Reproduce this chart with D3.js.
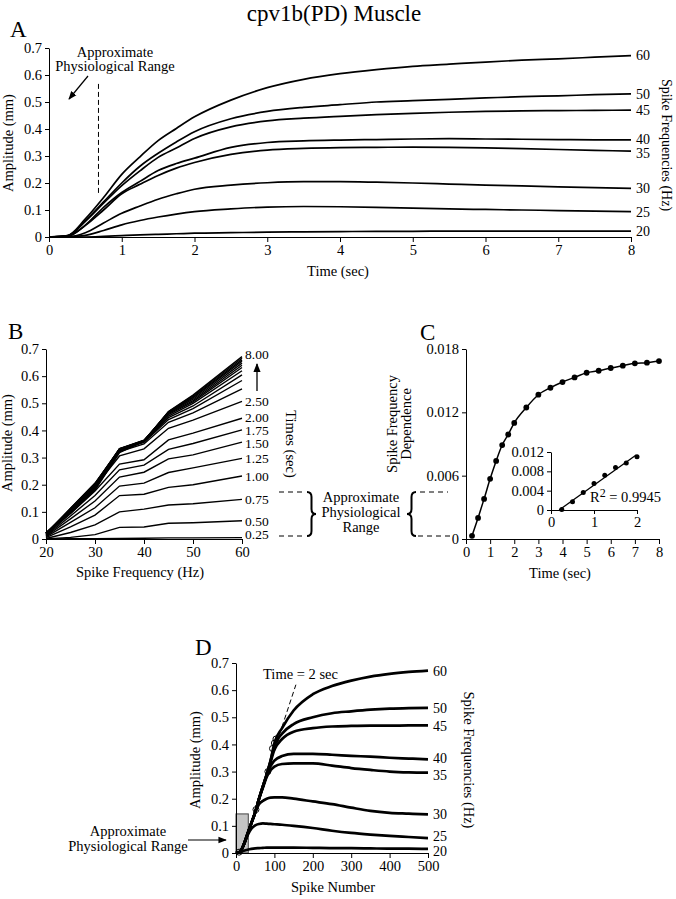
<!DOCTYPE html>
<html><head><meta charset="utf-8">
<script src="https://cdn.jsdelivr.net/npm/d3@7"></script>
<style>
body{margin:0;background:#fff;}
svg{display:block;font-family:"Liberation Serif","Times New Roman",serif;}
.axis text{font-size:14.5px;font-family:"Liberation Serif","Times New Roman",serif;fill:#000;}
.axis path,.axis line{stroke:#000;stroke-width:1;}
</style></head>
<body>
<svg id="fig" width="676" height="899"></svg>
<script>
// ---------------- DATA ----------------
const freqs = [20, 25, 30, 35, 40, 45, 50, 60];
// Panel A: amplitude (mm) vs time (sec)
const timeA = [0, 0.25, 0.5, 0.75, 1, 1.25, 1.5, 1.75, 2, 2.5, 3, 3.5, 4, 4.5, 5, 5.5, 6, 6.5, 7, 7.5, 8];
const ampA20 = [0, 0, 0, 0.002, 0.005, 0.008, 0.010, 0.012, 0.014, 0.016, 0.018, 0.019, 0.020, 0.021, 0.021, 0.022, 0.022, 0.022, 0.022, 0.022, 0.022];
const ampA25 = [0, 0.001, 0.006, 0.024, 0.045, 0.061, 0.074, 0.085, 0.094, 0.104, 0.111, 0.113, 0.112, 0.110, 0.107, 0.104, 0.102, 0.100, 0.098, 0.096, 0.094];
const ampA30 = [0, 0.001, 0.016, 0.052, 0.088, 0.115, 0.140, 0.160, 0.177, 0.192, 0.201, 0.205, 0.205, 0.203, 0.200, 0.196, 0.192, 0.189, 0.186, 0.183, 0.180];
const ampA35 = [0, 0.002, 0.043, 0.100, 0.160, 0.195, 0.228, 0.255, 0.276, 0.306, 0.322, 0.328, 0.331, 0.332, 0.333, 0.332, 0.330, 0.327, 0.324, 0.321, 0.318];
const ampA40 = [0, 0.003, 0.044, 0.110, 0.165, 0.206, 0.246, 0.272, 0.292, 0.332, 0.350, 0.356, 0.359, 0.361, 0.363, 0.364, 0.363, 0.362, 0.361, 0.360, 0.360];
const ampA45 = [0, 0.004, 0.058, 0.125, 0.190, 0.245, 0.295, 0.330, 0.365, 0.408, 0.430, 0.440, 0.447, 0.453, 0.458, 0.462, 0.465, 0.467, 0.468, 0.469, 0.470];
const ampA50 = [0, 0.004, 0.060, 0.130, 0.200, 0.262, 0.310, 0.352, 0.390, 0.438, 0.465, 0.480, 0.490, 0.500, 0.505, 0.510, 0.515, 0.520, 0.523, 0.527, 0.530];
const ampA60 = [0, 0.005, 0.067, 0.146, 0.232, 0.297, 0.357, 0.402, 0.445, 0.507, 0.553, 0.584, 0.605, 0.620, 0.632, 0.640, 0.648, 0.655, 0.660, 0.666, 0.672];
const ampA = [ampA20, ampA25, ampA30, ampA35, ampA40, ampA45, ampA50, ampA60];

// Panel B: times sampled from panel A traces
const timesB = [0.25, 0.5, 0.75, 1, 1.25, 1.5, 1.75, 2, 2.5, 3, 3.5, 4, 4.5, 5, 5.5, 6, 6.5, 7, 7.5, 8];
const labelTimesB = [0.25, 0.5, 0.75, 1, 1.25, 1.5, 1.75, 2, 2.5, 8];

// Panel C: spike frequency dependence vs time
const timeC = [0.25, 0.5, 0.75, 1, 1.25, 1.5, 1.75, 2, 2.5, 3, 3.5, 4, 4.5, 5, 5.5, 6, 6.5, 7, 7.5, 8];
const depC = [0.0003, 0.0020, 0.0038, 0.0057, 0.0074, 0.0089, 0.0099, 0.0110, 0.01246, 0.01367, 0.01433, 0.01487, 0.01531, 0.01575, 0.01594, 0.01620, 0.01642, 0.01664, 0.01670, 0.01686];
const insetTimes = [0.25, 0.5, 0.75, 1, 1.25, 1.5, 1.75, 2];
const insetDep = [0.0001, 0.0017, 0.0036, 0.0055, 0.0072, 0.0088, 0.0097, 0.0110];

// Panel D: amplitude vs spike number
const spikeD = [0, 10, 20, 30, 40, 50, 60, 70, 80, 90, 100, 120, 150, 200, 250, 300, 350, 400, 450, 500];
const ampD20 = [0, 0.003, 0.008, 0.012, 0.015, 0.017, 0.018, 0.019, 0.020, 0.020, 0.020, 0.020, 0.020, 0.019, 0.018, 0.018, 0.017, 0.016, 0.016, 0.015];
const ampD25 = [0, 0.004, 0.030, 0.065, 0.090, 0.102, 0.107, 0.109, 0.108, 0.107, 0.106, 0.104, 0.100, 0.092, 0.082, 0.074, 0.068, 0.063, 0.059, 0.055];
const ampD30 = [0, 0.004, 0.030, 0.070, 0.110, 0.150, 0.180, 0.192, 0.200, 0.204, 0.205, 0.205, 0.200, 0.190, 0.180, 0.167, 0.155, 0.148, 0.145, 0.142];
const ampD35 = [0, 0.004, 0.030, 0.070, 0.110, 0.150, 0.200, 0.240, 0.280, 0.305, 0.318, 0.328, 0.330, 0.330, 0.322, 0.313, 0.306, 0.300, 0.297, 0.296];
const ampD40 = [0, 0.004, 0.030, 0.070, 0.110, 0.150, 0.200, 0.245, 0.285, 0.320, 0.340, 0.357, 0.365, 0.365, 0.362, 0.358, 0.355, 0.351, 0.348, 0.345];
const ampD45 = [0, 0.004, 0.030, 0.070, 0.110, 0.150, 0.200, 0.245, 0.290, 0.335, 0.380, 0.420, 0.447, 0.460, 0.466, 0.468, 0.469, 0.469, 0.470, 0.470];
const ampD50 = [0, 0.004, 0.030, 0.070, 0.110, 0.150, 0.200, 0.245, 0.290, 0.340, 0.395, 0.440, 0.475, 0.500, 0.515, 0.522, 0.528, 0.532, 0.534, 0.535];
const ampD60 = [0, 0.004, 0.030, 0.070, 0.110, 0.150, 0.200, 0.245, 0.290, 0.340, 0.405, 0.460, 0.525, 0.585, 0.615, 0.635, 0.650, 0.660, 0.667, 0.672];
const ampD = [ampD20, ampD25, ampD30, ampD35, ampD40, ampD45, ampD50, ampD60];
const circlesSpike = [8, 52, 83, 95, 100, 104];
const circlesAmp = [0.003, 0.160, 0.300, 0.385, 0.405, 0.420];
const dashSpike = [100, 156];
const dashAmp = [0.38, 0.62];
const shadeSpike = 32, shadeAmp = 0.144;

// ---------------- DRAW ----------------
const svg = d3.select("#fig");
const FONT = 14.5;
const fmt1 = d => d === 0 ? "0" : d.toFixed(1);
const fmt3 = d => d === 0 ? "0" : d.toFixed(3);

function txt(x, y, s, opts = {}) {
  const t = svg.append("text").attr("x", x).attr("y", y).text(s)
    .attr("font-size", opts.size || FONT).attr("text-anchor", opts.anchor || "start");
  if (opts.rotate !== undefined) t.attr("transform", `rotate(${opts.rotate},${x},${y})`);
  if (opts.dy) t.attr("dy", opts.dy);
  return t;
}
function arrowHead(id) {
  const defs = svg.select("defs").empty() ? svg.append("defs") : svg.select("defs");
  defs.append("marker").attr("id", id).attr("viewBox", "0 0 10 10").attr("refX", 9).attr("refY", 5)
    .attr("markerWidth", 7).attr("markerHeight", 7).attr("orient", "auto")
    .append("path").attr("d", "M0,1 L10,5 L0,9 Z").attr("fill", "#000");
}
arrowHead("arr");
function brace(x, y1, y2, w) {
  const ym = (y1 + y2) / 2, q = 5, xm = x + w / 2;
  return `M${x},${y1} Q${xm},${y1} ${xm},${y1 + q} L${xm},${ym - q} Q${xm},${ym} ${x + w},${ym} Q${xm},${ym} ${xm},${ym + q} L${xm},${y2 - q} Q${xm},${y2} ${x},${y2}`;
}

// Title
txt(334, 21, "cpv1b(PD) Muscle", {size: 23, anchor: "middle"});

// ---------- Panel A ----------
const xA = d3.scaleLinear().domain([0, 8]).range([49, 631]);
const yA = d3.scaleLinear().domain([0, 0.7]).range([237, 48]);
svg.append("g").attr("class", "axis").attr("transform", "translate(0,237)")
  .call(d3.axisBottom(xA).tickValues(d3.range(0, 9)).tickSize(5).tickSizeOuter(0).tickFormat(d3.format("d")));
svg.append("g").attr("class", "axis").attr("transform", "translate(49,0)")
  .call(d3.axisLeft(yA).tickValues(d3.range(0, 0.71, 0.1)).tickSize(4).tickSizeOuter(0).tickFormat(fmt1));
const lineA = d3.line().x((d, i) => xA(timeA[i])).y(d => yA(d)).curve(d3.curveMonotoneX);
const labelNudgeA = [0, 0, 0, 2, -1, 0, 0, 0];
ampA.forEach((arr, k) => {
  svg.append("path").attr("d", lineA(arr)).attr("fill", "none").attr("stroke", "#000").attr("stroke-width", 1.7);
  txt(636, yA(arr[arr.length - 1]) + labelNudgeA[k], String(freqs[k]), {dy: "0.35em", size: 14});
});
txt(10, 37, "A", {size: 23});
txt(13, 143, "Amplitude (mm)", {anchor: "middle", rotate: -90});
txt(338, 276, "Time (sec)", {anchor: "middle"});
txt(662, 145, "Spike Frequencies (Hz)", {anchor: "middle", rotate: 90, size: 14});
txt(115, 57, "Approximate", {anchor: "middle"});
txt(115, 71, "Physiological Range", {anchor: "middle"});
svg.append("line").attr("x1", 88).attr("y1", 76).attr("x2", 69).attr("y2", 99)
  .attr("stroke", "#000").attr("stroke-width", 1.2).attr("marker-end", "url(#arr)");
svg.append("line").attr("x1", xA(0.68)).attr("x2", xA(0.68)).attr("y1", yA(0.567)).attr("y2", yA(0.155))
  .attr("stroke", "#000").attr("stroke-width", 1).attr("stroke-dasharray", "5,3");

// ---------- Panel B ----------
const xB = d3.scaleLinear().domain([20, 60]).range([46, 242]);
const yB = d3.scaleLinear().domain([0, 0.7]).range([539, 349]);
svg.append("g").attr("class", "axis").attr("transform", "translate(0,539)")
  .call(d3.axisBottom(xB).tickValues([20, 30, 40, 50, 60]).tickSize(5).tickSizeOuter(0).tickFormat(d3.format("d")));
svg.append("g").attr("class", "axis").attr("transform", "translate(46,0)")
  .call(d3.axisLeft(yB).tickValues(d3.range(0, 0.71, 0.1)).tickSize(4).tickSizeOuter(0).tickFormat(fmt1));
const lineB = d3.line().x(d => xB(d[0])).y(d => yB(d[1]));
timesB.forEach(t => {
  const idx = timeA.indexOf(t);
  const pts = freqs.map((f, k) => [f, ampA[k][idx]]);
  svg.append("path").attr("d", lineB(pts)).attr("fill", "none").attr("stroke", "#000").attr("stroke-width", 1.4);
});
labelTimesB.forEach(t => {
  const idx = timeA.indexOf(t);
  let y = yB(ampA[7][idx]);
  y = Math.min(y, yB(0) - 5);
  if (t === 8) y -= 2;
  if (t === 2) y -= 1;
  if (t === 1.5) y += 1;
  txt(245, y, t.toFixed(2), {dy: "0.35em", size: 13.5});
});
svg.append("line").attr("x1", 257).attr("x2", 257).attr("y1", 391).attr("y2", 364)
  .attr("stroke", "#000").attr("stroke-width", 1.3).attr("marker-end", "url(#arr)");
txt(286, 444, "Times (sec)", {anchor: "middle", rotate: 90});
txt(8, 339, "B", {size: 23});
txt(12, 443, "Amplitude (mm)", {anchor: "middle", rotate: -90});
txt(140, 577, "Spike Frequency (Hz)", {anchor: "middle"});
// bracket annotation between B and C
[[492, 279, 305], [536, 279, 305], [492, 420, 448], [536, 418, 450]].forEach(([y, x1, x2]) => {
  svg.append("line").attr("x1", x1).attr("x2", x2).attr("y1", y).attr("y2", y)
    .attr("stroke", "#000").attr("stroke-width", 1).attr("stroke-dasharray", "5,4");
});
svg.append("path").attr("d", brace(307, 492, 536, 9)).attr("fill", "none").attr("stroke", "#000").attr("stroke-width", 2);
svg.append("path").attr("d", brace(416, 492, 536, -9)).attr("fill", "none").attr("stroke", "#000").attr("stroke-width", 2);
txt(361, 502, "Approximate", {anchor: "middle"});
txt(361, 517, "Physiological", {anchor: "middle"});
txt(361, 532, "Range", {anchor: "middle"});

// ---------- Panel C ----------
const xC = d3.scaleLinear().domain([0, 8]).range([466, 659]);
const yC = d3.scaleLinear().domain([0, 0.018]).range([539, 349]);
svg.append("g").attr("class", "axis").attr("transform", "translate(0,539)")
  .call(d3.axisBottom(xC).tickValues(d3.range(0, 9)).tickSize(5).tickSizeOuter(0).tickFormat(d3.format("d")));
svg.append("g").attr("class", "axis").attr("transform", "translate(466,0)")
  .call(d3.axisLeft(yC).tickValues([0, 0.006, 0.012, 0.018]).tickSize(4).tickSizeOuter(0).tickFormat(fmt3));
const lineC = d3.line().x((d, i) => xC(timeC[i])).y(d => yC(d)).curve(d3.curveMonotoneX);
svg.append("path").attr("d", lineC(depC)).attr("fill", "none").attr("stroke", "#000").attr("stroke-width", 1.5);
svg.selectAll(".dotC").data(depC).enter().append("circle")
  .attr("cx", (d, i) => xC(timeC[i])).attr("cy", d => yC(d)).attr("r", 2.9).attr("fill", "#000");
txt(420, 340, "C", {size: 23});
txt(397, 424, "Spike Frequency", {anchor: "middle", rotate: -90});
txt(411, 424, "Dependence", {anchor: "middle", rotate: -90});
txt(560, 578, "Time (sec)", {anchor: "middle"});
// inset
const xI = d3.scaleLinear().domain([0, 2]).range([551, 637]);
const yI = d3.scaleLinear().domain([0, 0.012]).range([510, 452]);
svg.append("g").attr("class", "axis").attr("transform", "translate(0,510)")
  .call(d3.axisBottom(xI).tickValues([0, 1, 2]).tickSize(4).tickSizeOuter(0).tickFormat(d3.format("d")));
svg.append("g").attr("class", "axis").attr("transform", "translate(551,0)")
  .call(d3.axisLeft(yI).tickValues([0, 0.004, 0.008, 0.012]).tickSize(4).tickSizeOuter(0).tickFormat(fmt3));
// least squares regression on inset points
const mx = d3.mean(insetTimes), my = d3.mean(insetDep);
let sxy = 0, sxx = 0;
insetTimes.forEach((t, i) => { sxy += (t - mx) * (insetDep[i] - my); sxx += (t - mx) * (t - mx); });
const slope = sxy / sxx, icpt = my - slope * mx;
const tStart = -icpt / slope, tEnd = 1.98;
svg.append("line").attr("x1", xI(tStart)).attr("y1", yI(0)).attr("x2", xI(tEnd)).attr("y2", yI(icpt + slope * tEnd))
  .attr("stroke", "#000").attr("stroke-width", 1.3);
svg.selectAll(".dotI").data(insetDep).enter().append("circle")
  .attr("cx", (d, i) => xI(insetTimes[i])).attr("cy", d => yI(d)).attr("r", 2.5).attr("fill", "#000");
const r2 = svg.append("text").attr("x", 590).attr("y", 502).attr("font-size", FONT);
r2.append("tspan").text("R");
r2.append("tspan").text("2").attr("dy", -5).attr("font-size", 12);
r2.append("tspan").text(" = 0.9945").attr("dy", 5);

// ---------- Panel D ----------
const xD = d3.scaleLinear().domain([0, 500]).range([236, 428]);
const yD = d3.scaleLinear().domain([0, 0.7]).range([853, 663]);
svg.append("rect").attr("x", xD(0)).attr("y", yD(shadeAmp)).attr("width", xD(shadeSpike) - xD(0)).attr("height", yD(0) - yD(shadeAmp))
  .attr("fill", "#c4c4c4").attr("stroke", "#444").attr("stroke-width", 1);
svg.append("g").attr("class", "axis").attr("transform", "translate(0,853)")
  .call(d3.axisBottom(xD).tickValues(d3.range(0, 501, 100)).tickSize(5).tickSizeOuter(0).tickFormat(d3.format("d")));
svg.append("g").attr("class", "axis").attr("transform", "translate(236,0)")
  .call(d3.axisLeft(yD).tickValues(d3.range(0, 0.71, 0.1)).tickSize(4).tickSizeOuter(0).tickFormat(fmt1));
const lineD = d3.line().x((d, i) => xD(spikeD[i])).y(d => yD(d)).curve(d3.curveMonotoneX);
const labelNudgeD = [2, -2, 0, 2, -1, 1, 0, 0];
ampD.forEach((arr, k) => {
  svg.append("path").attr("d", lineD(arr)).attr("fill", "none").attr("stroke", "#000").attr("stroke-width", 2.7);
  txt(433, yD(arr[arr.length - 1]) + labelNudgeD[k], String(freqs[k]), {dy: "0.35em", size: 14});
});
svg.append("line").attr("x1", xD(dashSpike[0])).attr("y1", yD(dashAmp[0])).attr("x2", xD(dashSpike[1])).attr("y2", yD(dashAmp[1]))
  .attr("stroke", "#000").attr("stroke-width", 1).attr("stroke-dasharray", "5,3");
svg.selectAll(".cirD").data(circlesAmp).enter().append("circle")
  .attr("cx", (d, i) => xD(circlesSpike[i])).attr("cy", d => yD(d)).attr("r", 3)
  .attr("fill", "none").attr("stroke", "#000").attr("stroke-width", 1);
txt(263, 679, "Time = 2 sec");
txt(195, 655, "D", {size: 23});
txt(200, 760, "Amplitude (mm)", {anchor: "middle", rotate: -90});
txt(333, 892, "Spike Number", {anchor: "middle"});
txt(464, 760, "Spike Frequencies (Hz)", {anchor: "middle", rotate: 90});
txt(128, 836, "Approximate", {anchor: "middle"});
txt(128, 851, "Physiological Range", {anchor: "middle"});
svg.append("line").attr("x1", 188).attr("y1", 840).attr("x2", 226).attr("y2", 840)
  .attr("stroke", "#000").attr("stroke-width", 1.2).attr("marker-end", "url(#arr)");
</script>
</body></html>
